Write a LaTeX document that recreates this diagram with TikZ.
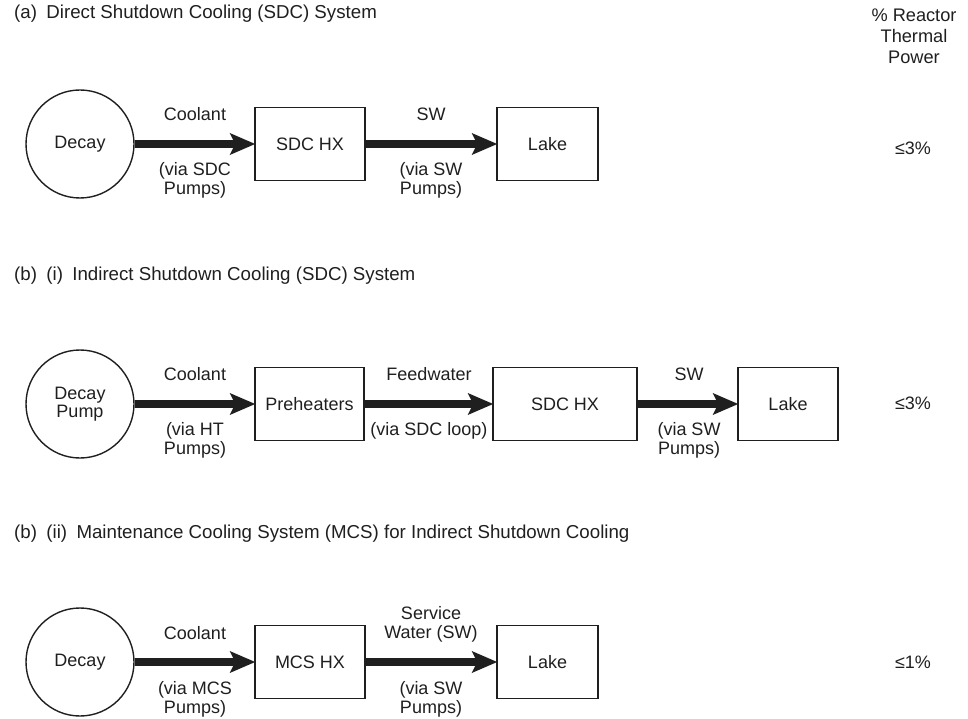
\documentclass[tikz,border=0pt]{standalone}
\usepackage{fontspec}
\setmainfont{Liberation Sans}
\usepackage{tikz}
\usetikzlibrary{arrows.meta}

\tikzset{
	decay/.style={draw,circle,line width=1.4pt,minimum size=108pt,inner sep=0pt,align=center},
	hxbox/.style={draw,line width=1.4pt,minimum height=73pt,inner sep=0pt},
	flow/.style={line width=8pt,-{Stealth[length=25pt,width=21pt,inset=5pt]},shorten >=-1pt},
	lbl/.style={align=center,inner sep=0pt},
	ttl/.style={anchor=west,inner sep=0pt,font=\fontsize{18.7}{22}\selectfont},
}

\begin{document}
\begin{tikzpicture}[x=1pt,y=-1pt,font=\fontsize{18}{19}\selectfont,color=black!88]
	\useasboundingbox (0,0) rectangle (968,719);
	
	%titles
	\node[ttl] (titleA) at (14,14) {(a)\enspace Direct Shutdown Cooling (SDC) System};
	\node[ttl] (titleB) at (14,276) {(b)\enspace (i)\enspace Indirect Shutdown Cooling (SDC) System};
	\node[ttl] (titleC) at (14,534) {(b)\enspace (ii)\enspace Maintenance Cooling System (MCS) for Indirect Shutdown Cooling};
	\node[lbl,font=\fontsize{18.2}{21}\selectfont] (power) at (914,36) {\% Reactor\\Thermal\\Power};
	
	%(a)
	\node[decay] (decayA) at (80,144) {Decay};
	\node[hxbox,minimum width=110pt] (hxA) at (310,144) {SDC HX};
	\node[hxbox,minimum width=101pt] (lakeA) at (547.5,144) {Lake};
	\draw[flow] (decayA) -- (hxA);
	\draw[flow] (hxA) -- (lakeA);
	\node[lbl] (coolA) at (195,114) {Coolant};
	\node[lbl] (pumpA) at (195,180) {(via SDC\\Pumps)};
	\node[lbl] (swA) at (431,114) {SW};
	\node[lbl] (swpA) at (431,180) {(via SW\\Pumps)};
	\node[lbl] (pctA) at (913,148) {≤3\%};
	
	%(b)(i)
	\node[decay] (decayB) at (80,404) {Decay\\[-1pt]Pump};
	\node[hxbox,minimum width=109pt] (preB) at (309.5,404) {Preheaters};
	\node[hxbox,minimum width=144pt] (hxB) at (565,404) {SDC HX};
	\node[hxbox,minimum width=100pt] (lakeB) at (788,404) {Lake};
	\draw[flow] (decayB) -- (preB);
	\draw[flow] (preB) -- (hxB);
	\draw[flow] (hxB) -- (lakeB);
	\node[lbl] (coolB) at (195,374) {Coolant};
	\node[lbl] (pumpB) at (195,440) {(via HT\\Pumps)};
	\node[lbl] (fwB) at (429,374) {Feedwater};
	\node[lbl] (loopB) at (429,431) {(via SDC loop)};
	\node[lbl] (swB) at (689,374) {SW};
	\node[lbl] (swpB) at (689,440) {(via SW\\Pumps)};
	\node[lbl] (pctB) at (913,403) {≤3\%};
	
	%(b)(ii)
	\node[decay] (decayC) at (80,662) {Decay};
	\node[hxbox,minimum width=110pt] (hxC) at (310,662) {MCS HX};
	\node[hxbox,minimum width=101pt] (lakeC) at (547.5,662) {Lake};
	\draw[flow] (decayC) -- (hxC);
	\draw[flow] (hxC) -- (lakeC);
	\node[lbl] (coolC) at (195,633) {Coolant};
	\node[lbl] (pumpC) at (195,699) {(via MCS\\Pumps)};
	\node[lbl] (swC) at (431,624) {Service\\Water (SW)};
	\node[lbl] (swpC) at (431,699) {(via SW\\Pumps)};
	\node[lbl] (pctC) at (913,662) {≤1\%};
\end{tikzpicture}
\end{document}
